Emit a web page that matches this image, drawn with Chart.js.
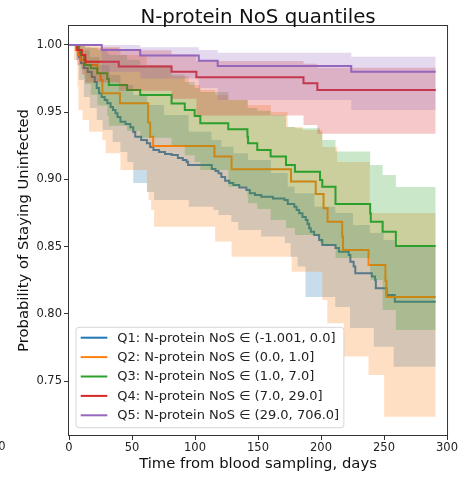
<!DOCTYPE html>
<html>
<head>
<meta charset="utf-8">
<script src="https://cdn.jsdelivr.net/npm/chart.js@4"></script>
<style>
  html, body { margin: 0; padding: 0; background: #fff; }
  #wrap { width: 459px; height: 478px; }
</style>
</head>
<body>
<div id="wrap"><canvas id="chart" width="459" height="478"></canvas></div>
<script>
const TITLE = 'N-protein NoS quantiles';
const X_LABEL = 'Time from blood sampling, days';
const Y_LABEL = 'Probability of Staying Uninfected';
const X_TICKS = [0, 50, 100, 150, 200, 250, 300];
const Y_TICKS = [0.75, 0.80, 0.85, 0.90, 0.95, 1.00];

const LABELS = [
  'Q1: N-protein NoS \u2208 (-1.001, 0.0]',
  'Q2: N-protein NoS \u2208 (0.0, 1.0]',
  'Q3: N-protein NoS \u2208 (1.0, 7.0]',
  'Q4: N-protein NoS \u2208 (7.0, 29.0]',
  'Q5: N-protein NoS \u2208 (29.0, 706.0]',
];
const COLORS = ['#1f77b4', '#ff7f0e', '#2ca02c', '#d62728', '#9467bd'];

// Kaplan-Meier estimates: [day, survival]
const Q1_KM = [[0,1.0],[5.5,0.9978],[7.1,0.9948],[7.9,0.9911],[9.4,0.9866],[11.8,0.9829],[14.9,0.9799],[18.1,0.9762],[20.4,0.9725],[22.0,0.9680],[23.8,0.9641],[25.9,0.9613],[28.3,0.9591],[30.4,0.9567],[33.0,0.9539],[34.9,0.9517],[36.9,0.9492],[38.5,0.9465],[40.8,0.9430],[44.8,0.9413],[48.7,0.9388],[51.0,0.9353],[52.6,0.9318],[57.3,0.9294],[61.8,0.9269],[64.4,0.9242],[67.0,0.9219],[71.5,0.9204],[76.2,0.9190],[81.4,0.9182],[86.4,0.9160],[90.3,0.9145],[93.2,0.9132],[94.5,0.9108],[113.3,0.9078],[116.2,0.9063],[118.6,0.9046],[120.9,0.9019],[123.9,0.8991],[127.2,0.8974],[130.4,0.8959],[135.1,0.8941],[140.8,0.8922],[143.5,0.8897],[147.6,0.8885],[152.6,0.8872],[161.8,0.8859],[171.0,0.8848],[173.6,0.8818],[178.8,0.8798],[180.6,0.8773],[182.7,0.8749],[185.3,0.8721],[187.9,0.8699],[189.3,0.8669],[190.6,0.8637],[191.9,0.8612],[194.5,0.8587],[198.5,0.8550],[201.0,0.8513],[211.5,0.8491],[214.2,0.8463],[222.0,0.8439],[223.3,0.8389],[225.9,0.8352],[227.2,0.8303],[240.3,0.8279],[242.9,0.8253],[243.5,0.8191],[252.1,0.8141],[258.6,0.8091],[291,0.8091]];
const Q2_KM = [[0,1.0],[5.5,0.9963],[7.1,0.9926],[9.0,0.9888],[13.5,0.9851],[22.5,0.9790],[25.1,0.9740],[26.5,0.9641],[40.4,0.9567],[62.8,0.9423],[64.4,0.9318],[66.8,0.9249],[115.4,0.9170],[129.0,0.9076],[176.2,0.8984],[195.8,0.8892],[202.0,0.8786],[205.2,0.8686],[216.8,0.8575],[217.5,0.8476],[237.7,0.8364],[251.1,0.8248],[251.9,0.8126],[291,0.8126]];
const Q3_KM = [[0,1.0],[8.1,0.9963],[9.4,0.9926],[12.0,0.9888],[12.6,0.9851],[17.3,0.9827],[22.5,0.9790],[30.4,0.9747],[31.6,0.9703],[46.1,0.9665],[56.5,0.9628],[81.4,0.9564],[91.9,0.9517],[99.7,0.9472],[104.2,0.9418],[126.4,0.9373],[141.6,0.9318],[142.1,0.9269],[149.4,0.9219],[160.0,0.9170],[172.2,0.9108],[179.3,0.9058],[199.2,0.8996],[201.0,0.8946],[211.5,0.8818],[239.0,0.8749],[239.5,0.8686],[248.9,0.8612],[259.4,0.8506],[291,0.8506]];
const Q4_KM = [[0,1.0],[6.5,0.9963],[10.2,0.9926],[13.0,0.9876],[39.5,0.9839],[81.4,0.9801],[101.1,0.9760],[186.1,0.9715],[197.1,0.9666],[291,0.9666]];
const Q5_KM = [[0,1.0],[26.0,0.9963],[56.5,0.9922],[103.0,0.9883],[118.0,0.9844],[224.0,0.9801],[291,0.9801]];

// confidence bands: [day, lower, upper]
const Q1_CI = [[0,1.0,1.0],[5.5,0.9888,1.0],[7.9,0.974,0.9963],[11.8,0.9613,0.9963],[16.5,0.9532,0.9911],[22.0,0.9442,0.9911],[24.3,0.9442,0.9851],[26.7,0.9368,0.9851],[32.2,0.9368,0.9777],[34.6,0.9279,0.9777],[40.8,0.9204,0.9703],[46.3,0.913,0.9703],[51.0,0.8974,0.9628],[62.0,0.8907,0.9554],[67.5,0.8848,0.9554],[75.4,0.8848,0.948],[95.0,0.8798,0.9355],[113.1,0.8798,0.9294],[114.7,0.8773,0.9294],[118.6,0.8736,0.9294],[120.9,0.8736,0.9244],[128.8,0.8684,0.9244],[130.4,0.8684,0.9195],[134.3,0.8625,0.9195],[142.1,0.8625,0.9145],[152.4,0.8575,0.9145],[160.2,0.8575,0.9048],[171.2,0.8528,0.9048],[173.6,0.8528,0.8946],[175.9,0.8426,0.8946],[179.1,0.8426,0.8897],[181.4,0.8352,0.8897],[187.7,0.8126,0.8897],[194.8,0.8126,0.8798],[211.3,0.8052,0.8751],[223.0,0.7896,0.8751],[225.4,0.7896,0.8662],[238.7,0.7896,0.8602],[241.9,0.7757,0.8602],[249.7,0.7757,0.855],[257.6,0.7608,0.855],[258.4,0.7608,0.8498],[291,0.7608,0.8498]];
const Q2_CI = [[0,1.0,1.0],[3.9,0.9888,1.0],[6.8,0.969,1.0],[7.5,0.9517,1.0],[10.8,0.9442,1.0],[15.9,0.9355,1.0],[24.3,0.9355,0.9985],[26.5,0.9294,0.9985],[29.1,0.9195,0.9985],[40.8,0.9071,0.9926],[61.8,0.8907,0.9851],[63.2,0.8848,0.9851],[65.2,0.8773,0.9851],[67.5,0.8649,0.9851],[81.4,0.8649,0.977],[95.0,0.8649,0.9703],[104.2,0.8649,0.9665],[116.0,0.8538,0.9628],[126.4,0.8538,0.9591],[129.0,0.8426,0.9591],[142.1,0.8426,0.9554],[160.2,0.8426,0.9502],[173.6,0.8426,0.939],[176.7,0.8314,0.939],[185.3,0.8314,0.9368],[201.0,0.8104,0.9242],[205.0,0.7931,0.9242],[212.8,0.7931,0.913],[218.1,0.7683,0.913],[237.7,0.7546,0.913],[238.7,0.7546,0.8751],[250.1,0.7236,0.8751],[291,0.7236,0.8751]];
const Q3_CI = [[0,1.0,1.0],[8.1,0.989,1.0],[9.4,0.982,1.0],[12.0,0.975,0.999],[12.6,0.971,0.9985],[17.3,0.963,0.998],[22.5,0.955,0.9965],[30.4,0.947,0.994],[31.6,0.940,0.9926],[46.1,0.936,0.989],[56.5,0.931,0.985],[81.4,0.925,0.978],[91.9,0.918,0.9725],[99.7,0.913,0.968],[104.2,0.907,0.965],[126.4,0.8946,0.9591],[141.6,0.887,0.955],[142.1,0.8823,0.9532],[149.4,0.878,0.951],[160.0,0.8699,0.948],[172.2,0.864,0.939],[179.3,0.8587,0.938],[199.2,0.853,0.935],[201.0,0.8513,0.9294],[211.5,0.8416,0.9207],[239.0,0.830,0.9108],[239.5,0.8253,0.9108],[248.9,0.803,0.9033],[259.4,0.7881,0.8944],[291,0.7881,0.8944]];
const Q4_CI = [[0,1.0,1.0],[6.5,0.985,1.0],[10.2,0.978,1.0],[13.0,0.972,0.998],[39.5,0.966,0.996],[81.4,0.960,0.993],[101.1,0.9475,0.988],[186.1,0.9405,0.986],[197.1,0.934,0.983],[291,0.934,0.983]];
const Q5_CI = [[0,1.0,1.0],[26.0,0.980,1.0],[56.5,0.975,0.9983],[103.0,0.968,0.9963],[118.0,0.959,0.9942],[224.0,0.9517,0.9913],[291,0.9517,0.9913]];

const KM = [Q1_KM, Q2_KM, Q3_KM, Q4_KM, Q5_KM];
const CI = [Q1_CI, Q2_CI, Q3_CI, Q4_CI, Q5_CI];

const FONT = 'DejaVu Sans';

function withAlpha(hex, a) {
  const n = parseInt(hex.slice(1), 16);
  return `rgba(${(n >> 16) & 255}, ${(n >> 8) & 255}, ${n & 255}, ${a})`;
}

const datasets = [];
KM.forEach((steps, i) => {
  const order = (5 - i) * 10;
  const ci = CI[i];
  datasets.push({
    label: '_lower',
    data: ci.map(([x, lo]) => ({ x, y: lo })),
    borderWidth: 0,
    borderColor: 'transparent',
    pointRadius: 0,
    stepped: 'before',
    fill: false,
    order: order + 2,
  });
  datasets.push({
    label: '_upper',
    data: ci.map(([x, , hi]) => ({ x, y: hi })),
    borderWidth: 0,
    borderColor: 'transparent',
    backgroundColor: withAlpha(COLORS[i], 0.25),
    pointRadius: 0,
    stepped: 'before',
    fill: '-1',
    order: order + 2,
  });
  datasets.push({
    label: LABELS[i],
    data: steps.map(([x, y]) => ({ x, y })),
    borderColor: COLORS[i],
    borderWidth: 2,
    pointRadius: 0,
    stepped: 'before',
    fill: false,
    order: order + 1,
  });
});

const frameAndTitle = {
  id: 'frameAndTitle',
  afterDatasetsDraw(chart) {
    const { ctx, chartArea: a } = chart;
    ctx.save();
    ctx.strokeStyle = '#333';
    ctx.lineWidth = 1;
    ctx.strokeRect(a.left - 0.5, a.top - 0.5, a.right - a.left + 1, a.bottom - a.top + 1);
    ctx.fillStyle = '#111';
    ctx.font = `19.8px "${FONT}"`;
    ctx.textAlign = 'center';
    ctx.textBaseline = 'alphabetic';
    ctx.fillText(TITLE, (a.left + a.right) / 2, 22.7);
    // last digit of a neighbouring panel's tick label, cut by the edge
    ctx.font = `11.5px "${FONT}"`;
    ctx.fillStyle = '#222';
    ctx.textAlign = 'right';
    ctx.textBaseline = 'middle';
    ctx.fillText('300', 5.5, chart.scales.x.top + 12);
    ctx.restore();
  },
};

const boxedLegend = {
  id: 'boxedLegend',
  afterDraw(chart) {
    const { ctx, chartArea: a } = chart;
    const items = chart.data.datasets.filter((d) => !d.label.startsWith('_'));
    ctx.save();
    ctx.font = `13px "${FONT}"`;
    const textW = Math.max(...items.map((d) => ctx.measureText(d.label).width));
    const padL = 4.7, handle = 26.6, gap = 10, row = 19.4;
    const w = padL + handle + gap + textW + 4.7;
    const h = 10.4 + row * (items.length - 1) + 12.4;
    const x = a.left + 7;
    const y = a.bottom - 7.3 - h;
    ctx.beginPath();
    ctx.roundRect(x, y, w, h, 3);
    ctx.fillStyle = 'rgba(255,255,255,0.8)';
    ctx.fill();
    ctx.strokeStyle = 'rgba(204,204,204,0.8)';
    ctx.lineWidth = 1;
    ctx.stroke();
    items.forEach((d, i) => {
      const cy = y + 10.4 + i * row;
      ctx.beginPath();
      ctx.moveTo(x + padL, cy);
      ctx.lineTo(x + padL + handle, cy);
      ctx.strokeStyle = d.borderColor;
      ctx.lineWidth = 2;
      ctx.stroke();
      ctx.fillStyle = '#222';
      ctx.textAlign = 'left';
      ctx.textBaseline = 'middle';
      ctx.fillText(d.label, x + padL + handle + gap, cy + 0.5);
    });
    ctx.restore();
  },
};

new Chart(document.getElementById('chart').getContext('2d'), {
  type: 'line',
  data: { datasets },
  options: {
    responsive: false,
    animation: false,
    devicePixelRatio: 1,
    layout: { padding: { top: 26, right: 8, left: 0, bottom: 0 } },
    plugins: {
      legend: { display: false },
      tooltip: { enabled: false },
      title: { display: false },
    },
    scales: {
      x: {
        type: 'linear',
        min: 0,
        max: 300,
        afterBuildTicks: (scale) => { scale.ticks = X_TICKS.map((value) => ({ value })); },
        afterFit: (scale) => { scale.height = 43; },
        grid: { display: true, drawOnChartArea: false, drawTicks: true, tickLength: 5, color: '#333' },
        border: { display: false },
        ticks: {
          font: { family: FONT, size: 11.5 },
          color: '#222',
          padding: 1,
          maxRotation: 0,
          autoSkip: false,
          callback: (value) => String(value),
        },
        title: {
          display: true,
          text: X_LABEL,
          font: { family: FONT, size: 14.8 },
          color: '#111',
          padding: { top: 0, bottom: 5 },
        },
      },
      y: {
        type: 'linear',
        min: 0.7100,
        max: 1.0141,
        afterBuildTicks: (scale) => { scale.ticks = Y_TICKS.map((value) => ({ value })); },
        afterFit: (scale) => { scale.width = 69; },
        grid: { display: true, drawOnChartArea: false, drawTicks: true, tickLength: 5, color: '#333' },
        border: { display: false },
        ticks: {
          font: { family: FONT, size: 11.5 },
          color: '#222',
          padding: 2,
          callback: (value) => Number(value).toFixed(2),
        },
        title: {
          display: true,
          text: Y_LABEL,
          font: { family: FONT, size: 14.8 },
          color: '#111',
          padding: { top: 15, bottom: 0 },
        },
      },
    },
  },
  plugins: [frameAndTitle, boxedLegend],
});
</script>
</body>
</html>
